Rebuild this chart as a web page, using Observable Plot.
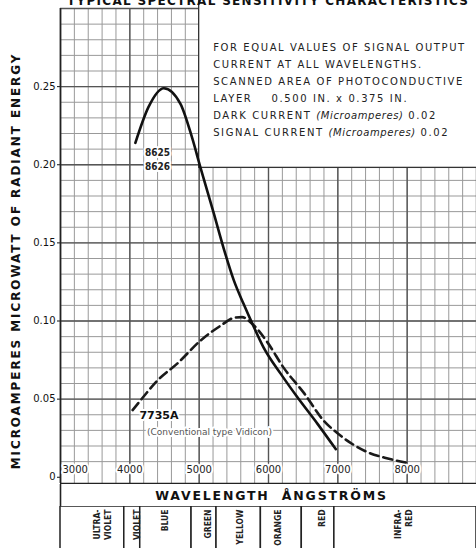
<!DOCTYPE html>
<html><head><meta charset="utf-8">
<script src="https://cdn.jsdelivr.net/npm/d3@7"></script>
<script src="https://cdn.jsdelivr.net/npm/@observablehq/plot@0.6"></script>
<style>
body{margin:0;background:#fff;overflow:hidden;width:476px;height:548px;position:relative;font-family:"DejaVu Sans",sans-serif}
#title{position:absolute;top:-6px;left:67px;white-space:nowrap;font:bold 12px "DejaVu Sans",sans-serif;letter-spacing:1.3px;color:#111;z-index:2;line-height:14px}
#chart svg{display:block}
</style></head><body>
<div id="title">TYPICAL SPECTRAL SENSITIVITY CHARACTERISTICS</div>
<div id="chart"></div>
<script>
// Tube 8625 / 8626 (solid)
const solidWavelength = [4080, 4270, 4490, 4730, 4900, 5020, 5210, 5350, 5500, 5640, 5770, 5930, 6180, 6420, 6710, 6970];
const solidValue      = [0.214, 0.237, 0.249, 0.239, 0.217, 0.198, 0.169, 0.147, 0.126, 0.111, 0.098, 0.083, 0.066, 0.051, 0.034, 0.018];
// Tube 7735A, conventional Vidicon (dashed)
const dashedWavelength = [4040, 4150, 4400, 4690, 5020, 5310, 5500, 5620, 5770, 5990, 6220, 6510, 6800, 7000, 7430, 7720, 7980];
const dashedValue      = [0.043, 0.049, 0.062, 0.073, 0.0875, 0.097, 0.1020, 0.1025, 0.098, 0.086, 0.070, 0.054, 0.036, 0.028, 0.016, 0.012, 0.0094];

const xTickLabels = ["3000", "4000", "5000", "6000", "7000", "8000"];
const yTickValues = [0, 0.05, 0.10, 0.15, 0.20, 0.25];

const bandNames = ["ULTRA-\nVIOLET", "VIOLET", "BLUE", "GREEN", "YELLOW", "ORANGE", "RED", "INFRA-\nRED"];
const bandEdges = [3000, 3920, 4150, 4890, 5250, 5890, 6480, 6950, 9000];
const bandLabelWavelength = [3460, 4040, 4440, 5060, 5525, 6075, 6710, 7805];

const yTitle = "MICROAMPERES MICROWATT OF RADIANT ENERGY";
const xTitle = "WAVELENGTH  ÅNGSTRÖMS";
const notes = "FOR EQUAL VALUES OF SIGNAL OUTPUT\nCURRENT AT ALL WAVELENGTHS.\nSCANNED AREA OF PHOTOCONDUCTIVE\nLAYER    0.500 IN. x 0.375 IN.\nDARK CURRENT (Microamperes) 0.02\nSIGNAL CURRENT (Microamperes) 0.02";

const solid = solidWavelength.map((w, i) => ({w, v: solidValue[i]}));
const dashed = dashedWavelength.map((w, i) => ({w, v: dashedValue[i]}));
const bands = bandNames.map((name, i) => ({name, x1: bandEdges[i], x2: bandEdges[i + 1], lx: bandLabelWavelength[i]}));

const xDomain = [3000, 9000];
const minorX = d3.range(3000, 9001, 200);
const majorX = d3.range(3000, 9001, 1000);
const minorY = d3.range(1, 31).map(d => d / 100);
const majorY = d3.range(1, 7).map(d => d * 5 / 100);

const halo = {stroke: "white", strokeWidth: 4, paintOrder: "stroke"};
const font = {background: "white", color: "#111", fontFamily: "DejaVu Sans, sans-serif"};

const main = Plot.plot({
  width: 476, height: 484,
  marginTop: 8, marginBottom: 1, marginLeft: 60, marginRight: 0,
  style: {...font, fontSize: "10px"},
  x: {domain: xDomain, axis: null},
  y: {domain: [-0.004, 0.30], ticks: yTickValues, tickSize: 3, tickPadding: 2, label: null,
      tickFormat: d => d === 0 ? "0" : d.toFixed(2)},
  marks: [
    Plot.ruleX(minorX, {stroke: "#999", strokeWidth: 1}),
    Plot.ruleY(minorY, {stroke: "#999", strokeWidth: 1}),
    Plot.ruleX(majorX, {stroke: "#555", strokeWidth: 1.4}),
    Plot.ruleY(majorY, {stroke: "#555", strokeWidth: 1.4}),
    Plot.rect([0], {x1: 5000, x2: 9200, y1: 0.198, y2: 0.31, fill: "white", stroke: "#333", strokeWidth: 1.3}),
    Plot.ruleX([3000], {stroke: "#222", strokeWidth: 1.6}),
    Plot.ruleY([-0.004], {stroke: "#222", strokeWidth: 1.6}),
    Plot.text(["8625\n8626"], {x: 4400, y: 0.204, fontSize: 10, fontWeight: "bold", fill: "#222",
      lineHeight: 1.35, fontFamily: "DejaVu Sans Condensed, DejaVu Sans", ...halo}),
    Plot.text(["7735A"], {x: 4420, y: 0.0395, fontSize: 11, fontWeight: "bold", fill: "#111", ...halo}),
    Plot.text(["(Conventional type Vidicon)"], {x: 5150, y: 0.0286, fontSize: 9, fill: "#555", ...halo}),
    Plot.text(xTickLabels.slice(1), {x: d => +d, frameAnchor: "bottom", dy: -11, fontSize: 10, fill: "#222", ...halo}),
    Plot.text(xTickLabels.slice(0, 1), {x: d => +d, frameAnchor: "bottom", dy: -11, dx: 2, textAnchor: "start", fontSize: 10, fill: "#222", ...halo}),
    Plot.line(dashed, {x: "w", y: "v", curve: "monotone-x", stroke: "#1a1a1a", strokeWidth: 2.6, strokeDasharray: "9,5"}),
    Plot.line(solid, {x: "w", y: "v", curve: "monotone-x", stroke: "#111", strokeWidth: 2.6}),
    Plot.text([notes], {x: 5000, y: 0.30, dx: 14, dy: 30, textAnchor: "start", lineAnchor: "top",
      lineHeight: 1.7, fontSize: 10, fill: "#222"}),
    Plot.text([yTitle], {frameAnchor: "left", dx: -44, dy: 15, rotate: -90, textAnchor: "middle", fontSize: 12, fontWeight: "bold",
      fill: "#111"})
  ]
});

const svgMain = d3.select(main.tagName === "svg" ? main : main.querySelector("svg"));
// letter spacing for the axis title and notes
svgMain.selectAll("text").filter(function () { return this.textContent === yTitle; })
  .style("letter-spacing", "1.9px");
svgMain.selectAll("text").filter(function () { return this.textContent.startsWith("FOR EQUAL"); })
  .style("letter-spacing", "1.6px")
  .selectAll("tspan").each(function () {
    // italicise "(Microamperes)"
    const t = this.textContent;
    const m = t.match(/^(.*)(\(Microamperes\))(.*)$/);
    if (m) {
      this.textContent = m[1];
      d3.select(this).append("tspan").attr("font-style", "italic").style("letter-spacing", "0.6px").text(m[2]);
      d3.select(this).append("tspan").text(m[3]);
    }
  });

const xRow = Plot.plot({
  width: 476, height: 22,
  marginTop: 0, marginBottom: 0, marginLeft: 60, marginRight: 0,
  style: font,
  x: {domain: xDomain, axis: null},
  marks: [
    Plot.ruleX([3000], {stroke: "#222", strokeWidth: 1.6}),
    Plot.text([xTitle], {frameAnchor: "middle", dx: 3, fontSize: 12.5, fontWeight: "bold", fill: "#111"})
  ]
});
d3.select(xRow).selectAll("text").style("letter-spacing", "1.8px");

const bandRow = Plot.plot({
  width: 476, height: 43,
  marginTop: 0, marginBottom: 0, marginLeft: 60, marginRight: 0,
  style: font,
  x: {domain: xDomain, axis: null},
  marks: [
    Plot.rect(bands, {x1: "x1", x2: "x2", fill: "white", stroke: "#222", strokeWidth: 1.5}),
    Plot.text(bands, {x: "lx", text: "name", frameAnchor: "top", dy: 3, rotate: -90, textAnchor: "end",
      lineHeight: 1.25, fontSize: 8.5, fontWeight: "bold", fill: "#222",
      fontFamily: "DejaVu Sans Condensed, Liberation Sans Narrow, DejaVu Sans"})
  ]
});

const chart = document.getElementById("chart");
chart.append(main, xRow, bandRow);
</script>
</body></html>
